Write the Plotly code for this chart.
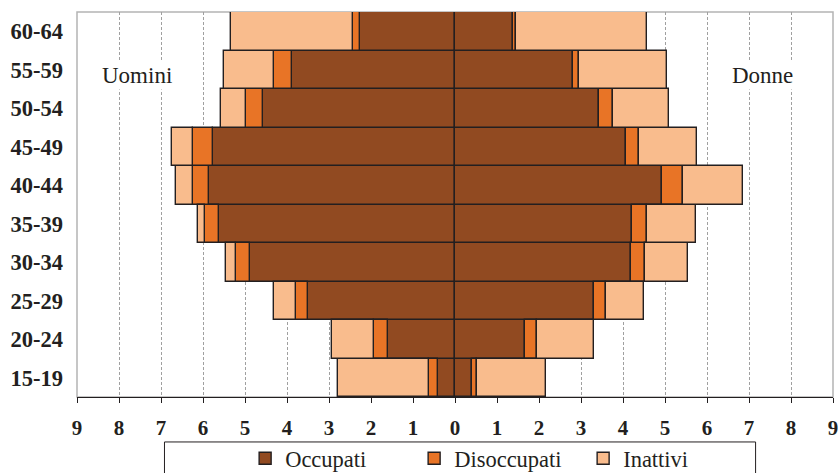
import plotly.graph_objects as go

ages = ['15-19', '20-24', '25-29', '30-34', '35-39', '40-44', '45-49', '50-54', '55-59', '60-64']

men_occupati = [0.41, 1.60, 3.51, 4.87, 5.61, 5.85, 5.76, 4.58, 3.88, 2.26]
men_disoccupati = [0.21, 0.33, 0.27, 0.34, 0.35, 0.40, 0.49, 0.40, 0.42, 0.18]
men_inattivi = [2.16, 1.00, 0.53, 0.25, 0.17, 0.39, 0.49, 0.59, 1.21, 2.90]

women_occupati = [0.40, 1.67, 3.31, 4.19, 4.22, 4.92, 4.06, 3.43, 2.80, 1.39]
women_disoccupati = [0.13, 0.29, 0.29, 0.34, 0.36, 0.52, 0.32, 0.33, 0.16, 0.06]
women_inattivi = [1.63, 1.35, 0.91, 1.02, 1.15, 1.42, 1.38, 1.33, 2.09, 3.12]

x_ticks = list(range(-9, 10))
x_ticktext = [str(abs(v)) for v in x_ticks]

series = [
    ('Occupati', '#914A21', men_occupati, women_occupati),
    ('Disoccupati', '#E87426', men_disoccupati, women_disoccupati),
    ('Inattivi', '#F9BC8D', men_inattivi, women_inattivi),
]

INK = '#231F20'
fig = go.Figure()
for name, color, men, women in series:
    fig.add_trace(go.Bar(
        y=ages, x=[-v for v in men], orientation='h', name=name,
        legendgroup=name, showlegend=True,
        marker=dict(color=color, line=dict(color=INK, width=1.4)),
        customdata=men, hovertemplate='Uomini %{y}: %{customdata}<extra>' + name + '</extra>'))
    fig.add_trace(go.Bar(
        y=ages, x=women, orientation='h', name=name,
        legendgroup=name, showlegend=False,
        marker=dict(color=color, line=dict(color=INK, width=1.4)),
        hovertemplate='Donne %{y}: %{x}<extra>' + name + '</extra>'))

fig.update_layout(
    width=839, height=473,
    margin=dict(l=77, r=6, t=12, b=76, autoexpand=False),
    barmode='relative', bargap=0,
    plot_bgcolor='white', paper_bgcolor='white',
    font=dict(family='Liberation Serif', color=INK),
    legend=dict(orientation='h', traceorder='normal',
                x=0.2224, xanchor='left', y=-0.16, yanchor='middle',
                font=dict(family='Liberation Serif', size=22.5, color=INK),
                entrywidth=124, entrywidthmode='pixels',
                bgcolor='rgba(0,0,0,0)'),
    xaxis=dict(range=[-9, 9], tickvals=x_ticks, ticktext=x_ticktext,
               showgrid=True, gridcolor='#A0A0A0', griddash='3px,2px', gridwidth=1,
               zeroline=False, showline=True, linecolor=INK, linewidth=1,
               ticks='outside', ticklen=5, tickcolor=INK, tickwidth=1,
               ticklabelstandoff=7,
               tickfont=dict(family='Liberation Serif', size=21, color=INK, weight='bold')),
    yaxis=dict(categoryorder='array', categoryarray=ages,
               range=[-0.5, 9.5], showgrid=False, zeroline=False,
               showline=False, ticks='', ticklabelstandoff=13,
               tickfont=dict(family='Liberation Serif', size=22.5, color=INK, weight='bold')),
    shapes=[
        dict(type='rect', xref='paper', yref='paper', x0=0, x1=1, y0=0, y1=1,
             line=dict(color='#B4B4B4', width=1.5), layer='below'),
        dict(type='rect', xref='paper', yref='paper', x0=0.1157, x1=0.8976, y0=-0.1168, y1=-0.4,
             line=dict(color=INK, width=1), layer='below'),
    ],
    annotations=[
        dict(text='Uomini', x=-7.57, y=0.834, xref='x', yref='paper', showarrow=False,
             xanchor='center', yanchor='middle',
             font=dict(family='Liberation Serif', size=23, color=INK), bgcolor='white'),
        dict(text='Donne', x=7.32, y=0.834, xref='x', yref='paper', showarrow=False,
             xanchor='center', yanchor='middle',
             font=dict(family='Liberation Serif', size=23, color=INK), bgcolor='white'),
    ],
)

fig.write_html('out.html', config={'displayModeBar': False},
               post_script="document.body.style.margin='0';")
